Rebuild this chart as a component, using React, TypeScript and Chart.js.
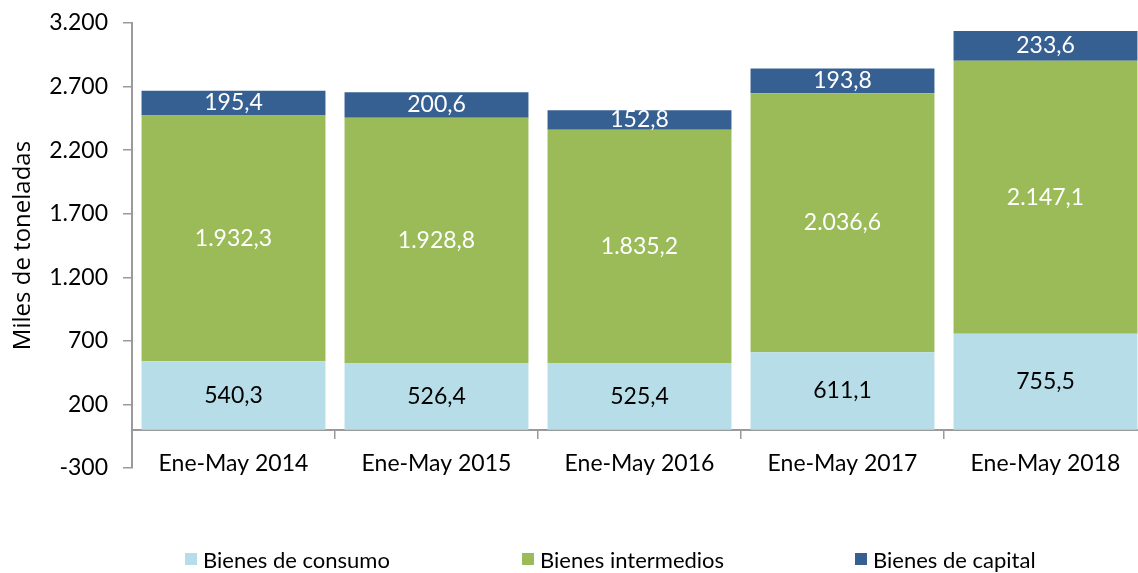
import React, { useEffect, useRef } from 'react';
import { Chart, registerables } from 'chart.js';

Chart.register(...registerables);

const categories = ['Ene-May 2014', 'Ene-May 2015', 'Ene-May 2016', 'Ene-May 2017', 'Ene-May 2018'];
const consumo = [540.3, 526.4, 525.4, 611.1, 755.5];
const intermedios = [1932.3, 1928.8, 1835.2, 2036.6, 2147.1];
const capital = [195.4, 200.6, 152.8, 193.8, 233.6];
const seriesNames = ['Bienes de consumo', 'Bienes intermedios', 'Bienes de capital'];
const seriesColors = ['#B7DEE8', '#9BBB59', '#376092'];
const labelColors = ['#000000', '#FFFFFF', '#FFFFFF'];
const yMin = -300;
const yMax = 3200;
const yStep = 500;
const axisTitle = 'Miles de toneladas';

function fmt(v: number, decimals: number): string {
  const neg = v < 0;
  const s = Math.abs(v).toFixed(decimals);
  const parts = s.split('.');
  const grouped = parts[0].replace(/\B(?=(\d{3})+(?!\d))/g, '.');
  return (neg ? '-' : '') + grouped + (parts[1] ? ',' + parts[1] : '');
}

const FONT = 'Lato';
const AXIS_COLOR = '#9a9a9a';

const segmentLabels = {
  id: 'segmentLabels',
  afterDatasetsDraw(chart: any) {
    const ctx = chart.ctx;
    ctx.save();
    ctx.font = `23px ${FONT}`;
    ctx.textAlign = 'center';
    ctx.textBaseline = 'middle';
    chart.data.datasets.forEach((ds: any, i: number) => {
      const meta = chart.getDatasetMeta(i);
      meta.data.forEach((el: any, j: number) => {
        const p = el.getProps(['x', 'y', 'base'], true);
        ctx.fillStyle = labelColors[i];
        ctx.fillText(fmt(ds.data[j], 1), p.x, (p.y + p.base) / 2);
      });
    });
    ctx.restore();
  },
};

function BarChart() {
  const ref = useRef<HTMLCanvasElement | null>(null);
  useEffect(() => {
    if (!ref.current) return;
    Chart.defaults.font.family = FONT;
    const seriesData = [consumo, intermedios, capital];
    const chart = new Chart(ref.current, {
      type: 'bar',
      data: {
        labels: categories,
        datasets: seriesData.map((d, i) => ({
          label: seriesNames[i],
          data: d,
          backgroundColor: seriesColors[i],
          borderWidth: 0,
          barPercentage: 0.906,
          categoryPercentage: 1,
        })),
      },
      options: {
        animation: false,
        responsive: false,
        devicePixelRatio: 1,
        layout: { padding: { top: 23, right: 13, bottom: 105, left: 0 } },
        plugins: {
          legend: { display: false },
          tooltip: { enabled: false },
        },
        scales: {
          x: {
            stacked: true,
            position: { y: 0 } as any,
            grid: {
              drawOnChartArea: false,
              drawTicks: true,
              tickLength: 8,
              color: AXIS_COLOR,
              lineWidth: 1.5,
              offset: true,
            },
            border: { color: AXIS_COLOR, width: 2 },
            ticks: { color: '#000', font: { size: 23, family: FONT }, padding: 12, maxRotation: 0 },
          },
          y: {
            stacked: true,
            min: yMin,
            max: yMax,
            afterFit: (scale: any) => {
              scale.width = 132;
              scale.paddingTop = 0;
              scale.paddingBottom = 0;
            },
            ticks: {
              stepSize: yStep,
              color: '#000',
              font: { size: 23, family: FONT },
              padding: 15,
              callback: (v: any) => fmt(Number(v), 0),
            },
            grid: {
              drawOnChartArea: false,
              drawTicks: true,
              tickLength: 9,
              color: AXIS_COLOR,
              lineWidth: 1.5,
            },
            border: { color: AXIS_COLOR, width: 2 },
            title: {
              display: true,
              text: axisTitle,
              color: '#000',
              font: { size: 24, family: 'Open Sans' },
              padding: { top: 9, bottom: 0 },
            },
          },
        },
      },
      plugins: [segmentLabels],
    });
    if ((document as any).fonts && (document as any).fonts.ready) {
      (document as any).fonts.ready.then(() => chart.update());
    }
    return () => chart.destroy();
  }, []);
  return <canvas ref={ref} width={1160} height={573} style={{ display: 'block' }} />;
}

const legendLefts = [185, 522, 855];

export default function App() {
  return (
    <div style={{ position: 'absolute', left: 0, top: 0, width: 1138, height: 573, overflow: 'hidden', background: '#fff' }}>
      <BarChart />
      {seriesNames.map((name, i) => (
        <div
          key={name}
          style={{
            position: 'absolute',
            left: legendLefts[i],
            top: 546,
            height: 26,
            display: 'flex',
            alignItems: 'center',
            fontFamily: FONT,
            fontSize: 22,
            color: '#000',
            whiteSpace: 'nowrap',
          }}
        >
          <span style={{ display: 'inline-block', width: 12, height: 12, background: seriesColors[i], marginRight: 6 }} />
          <span>{name}</span>
        </div>
      ))}
    </div>
  );
}
